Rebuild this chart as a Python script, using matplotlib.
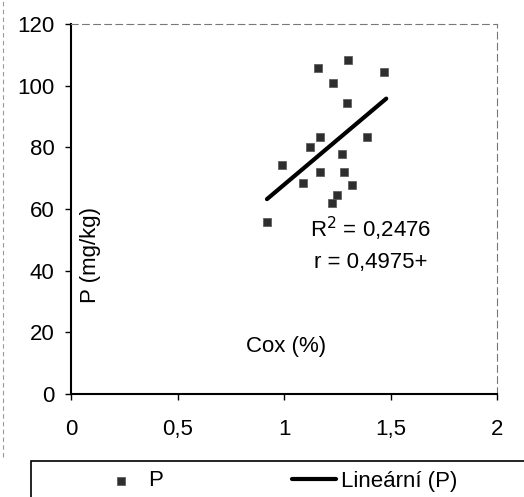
import matplotlib
matplotlib.use("Agg")
import matplotlib.pyplot as plt
from matplotlib.patches import Rectangle
from matplotlib.lines import Line2D
from matplotlib.ticker import FuncFormatter

plt.rcParams["font.family"] = ["Liberation Sans", "DejaVu Sans"]

# Data
cox = [1.16, 1.30, 1.47, 1.23, 1.295, 1.17, 1.39, 0.99, 1.17, 1.28,
       1.27, 1.32, 1.25, 1.225, 0.92, 1.09, 1.12]
p_val = [105.7, 108.3, 104.4, 101.0, 94.4, 83.4, 83.4, 74.3, 72.0, 72.0,
         78.0, 67.8, 64.5, 62.0, 55.8, 68.4, 80.0]
trend_x = [0.92, 1.48]
trend_y = [63.2, 95.8]

fig = plt.figure(figsize=(5.24, 4.97), dpi=100)
ax = fig.add_axes([71 / 524, 1 - 394 / 497, (497 - 71) / 524, (394 - 24) / 497])

ax.scatter(cox, p_val, marker="s", s=40, color="#2e2e2e", edgecolors="#555555",
           linewidths=0.5, label="P", zorder=3)
ax.plot(trend_x, trend_y, color="black", lw=3, solid_capstyle="round",
        label="Lineární (P)", zorder=4)

ax.set_xlim(0, 2)
ax.set_ylim(0, 120)
ax.set_xticks([0, 0.5, 1, 1.5, 2])
ax.set_yticks(range(0, 121, 20))
ax.xaxis.set_major_formatter(FuncFormatter(lambda v, _: f"{v:g}".replace(".", ",")))
ax.tick_params(labelsize=16, length=4, width=1, direction="out")
ax.tick_params(axis="x", pad=14)
ax.tick_params(axis="y", pad=8)

for side in ["top", "right"]:
    ax.spines[side].set_linestyle((0, (6, 4)))
    ax.spines[side].set_color("#777777")
    ax.spines[side].set_linewidth(0.8)
for side in ["left", "bottom"]:
    ax.spines[side].set_linewidth(1.5)

ax.text(1.12, 51, r"R$^2$ = 0,2476", fontsize=16)
ax.text(1.14, 41, "r = 0,4975+", fontsize=16)
ax.text(0.82, 13.5, "Cox (%)", fontsize=16)
ax.text(0.04, 31, "P (mg/kg)", fontsize=16, rotation=90)

# faint outer border on the left
fig.add_artist(Line2D([3 / 524, 3 / 524], [0.08, 1], transform=fig.transFigure,
                      color="#999999", lw=0.8, ls=(0, (4, 3))))

# legend box along the bottom
fig.patches.append(Rectangle((31 / 524, -0.05), 0.99, 0.05 + (497 - 461) / 497,
                             transform=fig.transFigure, fill=False,
                             edgecolor="black", lw=1.2))
fig.legend(loc="center left", bbox_to_anchor=(99 / 524, 1 - 481 / 497), ncol=2,
           frameon=False, fontsize=16, handlelength=2.0, columnspacing=5.8,
           handletextpad=0.2, markerscale=0.9, borderpad=0, borderaxespad=0)

plt.savefig("out.png", dpi=100)
